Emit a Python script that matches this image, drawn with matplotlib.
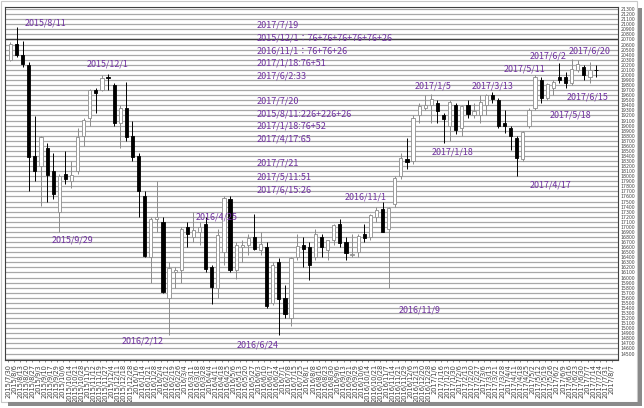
import numpy as np
import matplotlib.pyplot as plt
from matplotlib.patches import Rectangle

# 5-trading-day blocks, one per date label
labels = [
    "2015/7/30", "2015/8/6", "2015/8/13", "2015/8/20", "2015/8/27", "2015/9/3",
    "2015/9/10", "2015/9/17", "2015/9/29", "2015/10/6", "2015/10/14", "2015/10/21",
    "2015/10/28", "2015/11/5", "2015/11/12", "2015/11/19", "2015/11/27", "2015/12/4",
    "2015/12/11", "2015/12/18", "2015/12/28",
    "2016/1/6", "2016/1/14", "2016/1/21", "2016/1/28", "2016/2/4", "2016/2/12",
    "2016/2/19", "2016/2/26", "2016/3/4", "2016/3/11", "2016/3/18", "2016/3/28",
    "2016/4/4", "2016/4/11", "2016/4/18", "2016/4/25", "2016/5/6", "2016/5/13",
    "2016/5/20", "2016/5/27", "2016/6/3", "2016/6/10", "2016/6/17", "2016/6/24",
    "2016/7/1", "2016/7/8", "2016/7/15", "2016/7/25", "2016/8/1", "2016/8/8",
    "2016/8/16", "2016/8/23", "2016/8/30", "2016/9/6", "2016/9/13", "2016/9/21",
    "2016/9/29", "2016/10/6", "2016/10/14", "2016/10/21", "2016/10/28", "2016/11/7",
    "2016/11/14", "2016/11/21", "2016/11/29", "2016/12/6", "2016/12/13", "2016/12/20",
    "2016/12/28",
    "2017/1/6", "2017/1/16", "2017/1/23", "2017/1/30", "2017/2/6", "2017/2/13",
    "2017/2/20", "2017/2/27", "2017/3/6", "2017/3/13", "2017/3/21", "2017/3/28",
    "2017/4/4", "2017/4/11", "2017/4/18", "2017/4/25", "2017/5/2", "2017/5/12",
    "2017/5/19", "2017/5/26", "2017/6/2", "2017/6/9", "2017/6/16", "2017/6/23",
    "2017/6/30", "2017/7/7", "2017/7/14", "2017/7/24", "2017/7/31", "2017/8/7",
]

opens = [20300, 20614, 20400, 20200, 18400, 18200, 18550, 18100, 17300, 18050,
         17900, 18100, 18800, 19150, 19700, 19700, 19950, 19800, 19050, 19350,
         18800, 18400, 17600, 16400, 17150, 17100, 15600, 16100, 16150, 17000,
         16800, 16900, 17050, 16200, 15800, 16500, 17550, 16150, 16600, 16650,
         16800, 16550, 16600, 15500, 16300, 15600, 15200, 16400, 16650, 16600,
         16400, 16800, 16550, 16750, 17050, 16700, 16450, 16500, 16850, 16800,
         17200, 17350, 16950, 17450, 18000, 18350, 18300, 19200, 19350, 19400,
         19450, 19200, 19000, 19400, 18950, 19400, 19200, 19200, 19400, 19600,
         19500, 19050, 18950, 18750, 18350, 19000, 19350, 19900, 19550, 19750,
         19950, 19950, 19850, 20100, 20150, 19950, 20100]
highs = [20650, 20946, 20660, 20250, 19193, 18800, 18650, 18450, 18050, 18500,
         18300, 18950, 19150, 19720, 19750, 19990, 20012, 19850, 19400, 19869,
         19100, 18450, 17700, 17200, 17905, 17200, 16300, 16200, 17000, 17100,
         17300, 17100, 17200, 16250, 16950, 17600, 17613, 16700, 16750, 16850,
         17250, 16900, 16700, 16300, 16389, 15850, 16400, 16850, 16800, 16700,
         16950, 16850, 16750, 17050, 17150, 16800, 16850, 16850, 17050, 17250,
         17400, 17490, 17400, 18000, 18450, 18750, 19200, 19450, 19600, 19615,
         19500, 19250, 19500, 19450, 19400, 19500, 19450, 19600, 19620, 19656,
         19550, 19300, 19000, 18800, 18900, 19350, 19998, 19950, 19850, 19900,
         20239, 20050, 20318, 20300, 20200, 20250, 20200]
lows = [20280, 20350, 20150, 17714, 17900, 17410, 17500, 17550, 16901, 17850,
        17770, 18050, 18600, 19000, 19250, 19690, 19700, 19000, 18550, 18700,
        18300, 17200, 16400, 15900, 16900, 15700, 14865, 15800, 15900, 16600,
        16700, 16650, 16100, 15470, 15600, 16250, 16100, 15975, 16300, 16450,
        16550, 16450, 15400, 15450, 14864, 15200, 15050, 16350, 16200, 15950,
        16350, 16400, 16350, 16650, 16600, 16350, 16400, 16400, 16700, 16750,
        17100, 16900, 15800, 17400, 17950, 18150, 18250, 19050, 19300, 19050,
        19050, 18650, 18700, 18830, 18800, 19150, 19150, 19050, 19200, 19450,
        18950, 18850, 18520, 18000, 18300, 18950, 19300, 19450, 19500, 19600,
        19850, 19750, 19800, 20050, 19900, 19850, 19950]
closes = [20614, 20392, 20222, 18376, 18095, 18770, 18026, 17645, 18005, 17940,
          18029, 18777, 19116, 19697, 19649, 19944, 19939, 19046, 19353, 18769,
          18374, 17715, 16416, 17163, 17191, 15713, 16196, 16140, 16960, 16852,
          16936, 17002, 16164, 15821, 16848, 17572, 16147, 16646, 16646, 16772,
          16562, 16668, 15434, 16238, 15575, 15276, 16385, 16627, 16569, 16254,
          16869, 16598, 16737, 17037, 16672, 16492, 16465, 16819, 16774, 17235,
          17336, 16905, 17374, 17967, 18356, 18274, 19155, 19391, 19403, 19520,
          19287, 19137, 19467, 18918, 19378, 19234, 19283, 19469, 19604, 19521,
          18985, 18983, 18797, 18355, 18875, 19310, 19961, 19553, 19813, 19860,
          19909, 19831, 20110, 20220, 19994, 20099, 20099]

# purple notes: (text, x px, y px)
marks = [
    ("2015/8/11", 25, 23), ("2015/12/1", 87, 64), ("2015/9/29", 52, 240),
    ("2016/2/12", 122, 341), ("2016/4/25", 196, 217), ("2016/6/24", 237, 345),
    ("2016/11/1", 345, 197), ("2016/11/9", 399, 310), ("2017/1/5", 415, 86),
    ("2017/1/18", 432, 152), ("2017/3/13", 472, 86), ("2017/4/17", 530, 185),
    ("2017/5/11", 504, 69), ("2017/5/18", 550, 115), ("2017/6/2", 530, 56),
    ("2017/6/20", 569, 51), ("2017/6/15", 567, 97),
]
notes = [
    ("2017/7/19", 25), ("2015/12/1：76+76+76+76+76+26", 38),
    ("2016/11/1：76+76+26", 51), ("2017/1/18:76+51", 63), ("2017/6/2:33", 76),
    ("2017/7/20", 101), ("2015/8/11:226+226+26", 114), ("2017/1/18:76+52", 126),
    ("2017/4/17:65", 139), ("2017/7/21", 163), ("2017/5/11:51", 177),
    ("2017/6/15:26", 190),
]

W, H = 644, 408
purple = "#7030a0"
jp = ["Noto Sans CJK JP", "DejaVu Sans"]

fig = plt.figure(figsize=(W / 100, H / 100), dpi=100)
ax = fig.add_axes([5 / W, 1 - 360 / H, 613 / W, 353 / H])

o = np.array(opens)
c = np.array(closes)
lo = np.array(lows)
hi = np.array(highs)
x = np.arange(len(c)) * 5 + 2
up = c >= o

for lvl in range(14400, 21301, 100):
    ax.axhline(lvl, color="#a8a8a8", lw=0.9, zorder=0)
ax.axhline(20700, color="#404040", lw=1.0, zorder=0.5)

ax.vlines(x[up], lo[up], hi[up], color="#8c8c8c", lw=0.7, zorder=2)
ax.vlines(x[~up], lo[~up], hi[~up], color="black", lw=0.7, zorder=2)
ax.bar(x[up], c[up] - o[up], bottom=o[up], width=2.6, color="white",
       edgecolor="#8c8c8c", lw=0.6, zorder=3)
ax.bar(x[~up], o[~up] - c[~up], bottom=c[~up], width=2.6, color="black",
       edgecolor="black", lw=0.6, zorder=3)

ax.set_xlim(-2.5, 500)
ax.set_ylim(14372, 21341)
ax.set_xticks(np.arange(len(labels)) * 5)
ax.set_xticklabels(labels, rotation=90, fontsize=4.8, color="#404040")
ax.yaxis.tick_right()
ax.set_yticks(np.arange(14500, 21301, 100))
ax.tick_params(axis="y", length=0, labelsize=3.3, pad=2, labelcolor="#404040")
ax.tick_params(axis="x", length=1.5, width=0.5, pad=1.5, color="#606060")
for s in ax.spines.values():
    s.set_color("#404040")
    s.set_linewidth(0.8)

for txt, px, py in marks:
    fig.text(px / W, 1 - py / H, txt, color=purple, fontsize=6.4, family=jp,
             va="center", ha="left")
for txt, py in notes:
    fig.text(257 / W, 1 - py / H, txt, color=purple, fontsize=6.5, family=jp,
             va="center", ha="left")

# picture border with shadow
fig.add_artist(Rectangle((1 / W, 1 - 402 / H), 636 / W, 401 / H, transform=fig.transFigure,
                         fill=False, ec="#c8c8c8", lw=0.8))
fig.add_artist(Rectangle((638 / W, 1 - 406 / H), 4 / W, 398 / H, transform=fig.transFigure,
                         color="#8a8a8a", lw=0))
fig.add_artist(Rectangle((8 / W, 1 - 406 / H), 634 / W, 4 / H, transform=fig.transFigure,
                         color="#8a8a8a", lw=0))

fig.savefig("out.png", dpi=100)
